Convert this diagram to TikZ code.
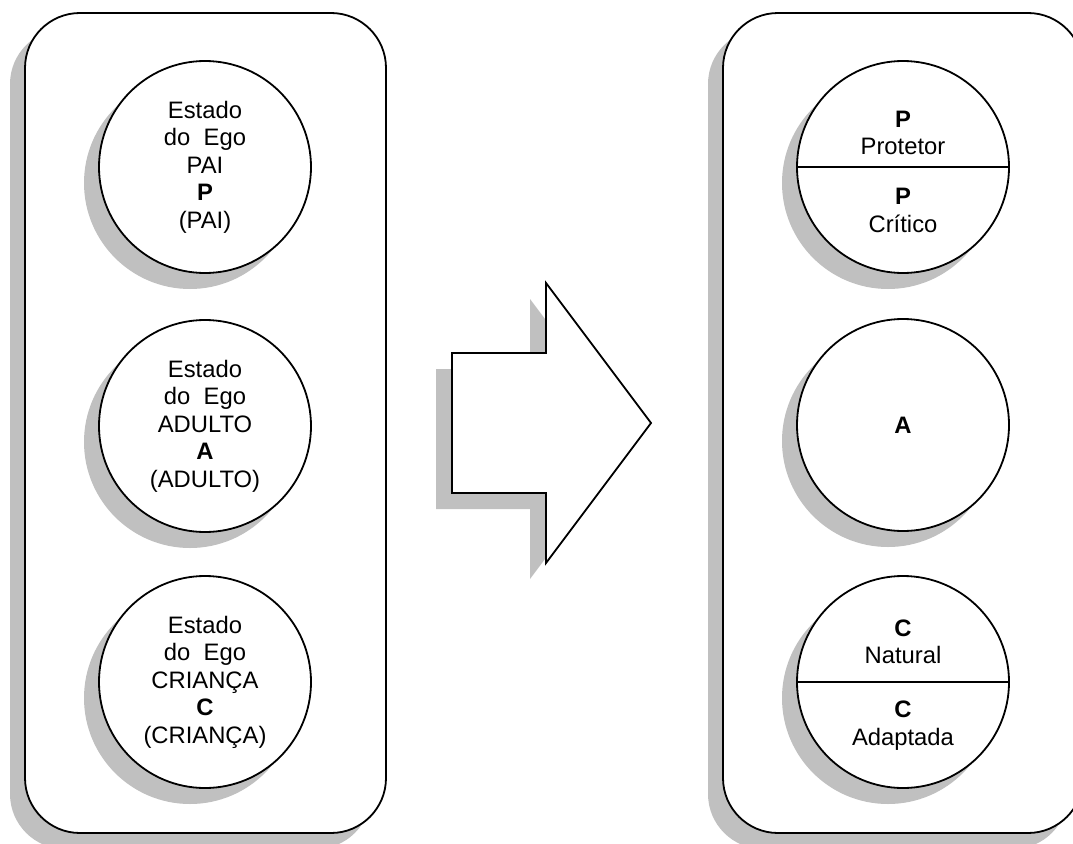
\documentclass[tikz,border=0pt]{standalone}
\usepackage{fontspec}
\setmainfont{Liberation Sans}
\usetikzlibrary{calc}
\usetikzlibrary{positioning}

\definecolor{shadowgray}{RGB}{192,192,192}

\tikzset{
  panel/.style={draw,line width=1.8pt,fill=white,rounded corners=55pt},
  panelshadow/.style={fill=shadowgray,rounded corners=55pt},
  ego/.style={circle,draw,line width=1.8pt,fill=white,minimum size=212pt,inner sep=0pt,align=center},
  egoshadow/.style={circle,fill=shadowgray,minimum size=212pt,inner sep=0pt},
  lbl/.style={inner sep=0pt,align=center}
}

\begin{document}
\begin{tikzpicture}[x=1pt,y=-1pt,every node/.style={font=\fontsize{23.8}{27.5}\selectfont}]
\useasboundingbox (0,0) rectangle (1073,843);
\clip (0,0) rectangle (1073,843);

% the two boxes
\fill[panelshadow] (10,29) rectangle (371,849);
\draw[panel] (25,13) rectangle (386,833);
\fill[panelshadow] (708,29) rectangle (1068,849);
\draw[panel] (723,13) rectangle (1083,833);

% big arrow
\fill[shadowgray] (436,369) -- (530,369) -- (530,299) -- (635,439) -- (530,579) -- (530,509) -- (436,509) -- cycle;
\draw[line width=1.8pt,fill=white] (452,353) -- (546,353) -- (546,283) -- (651,423) -- (546,563) -- (546,493) -- (452,493) -- cycle;

\coordinate (c pai) at (205,167);
\coordinate (c adulto) at (205,426);
\coordinate (c crianca) at (205,682);
\coordinate (c p) at (903,167);
\coordinate (c a) at (903,425);
\coordinate (c c) at (903,682);

% left column
\node[egoshadow] at ($(c pai)+(-15,16)$) {};
\node[ego] (pai) at (c pai) {Estado\\do\ \ Ego\\PAI\\\textbf{P}\\(PAI)};
\node[egoshadow] at ($(c adulto)+(-15,16)$) {};
\node[ego] (adulto) at (c adulto) {Estado\\do\ \ Ego\\ADULTO\\\textbf{A}\\(ADULTO)};
\node[egoshadow] at ($(c crianca)+(-15,16)$) {};
\node[ego] (crianca) at (c crianca) {Estado\\do\ \ Ego\\CRIANÇA\\\textbf{C}\\(CRIANÇA)};

% right column
\node[egoshadow] at ($(c p)+(-15,16)$) {};
\node[ego] (p split) at (c p) {};
\draw[line width=1.8pt] (p split.west) -- (p split.east);
\node[lbl,above=12pt of p split.center] (protetor) {\textbf{P}\\Protetor};
\node[lbl,below=21pt of p split.center] (critico) {\textbf{P}\\Crítico};

\node[egoshadow] at ($(c a)+(-15,16)$) {};
\node[ego] (a circ) at (c a) {\textbf{A}};

\node[egoshadow] at ($(c c)+(-15,16)$) {};
\node[ego] (c split) at (c c) {};
\draw[line width=1.8pt] (c split.west) -- (c split.east);
\node[lbl,above=18pt of c split.center] (natural) {\textbf{C}\\Natural};
\node[lbl,below=19pt of c split.center] (adaptada) {\textbf{C}\\Adaptada};
\end{tikzpicture}
\end{document}
